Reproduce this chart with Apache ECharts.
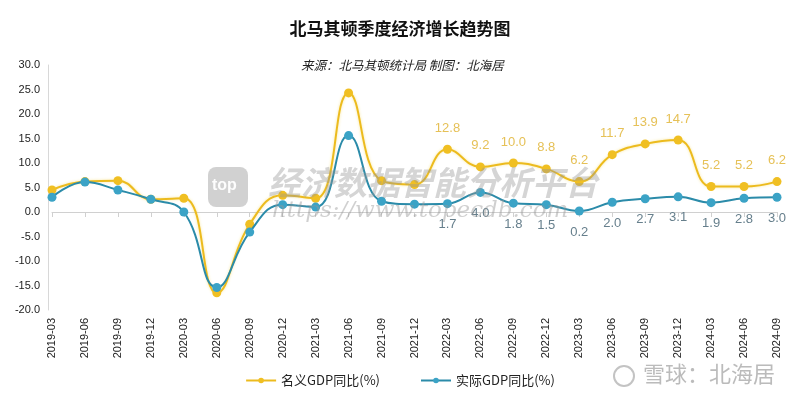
<!DOCTYPE html>
<html>
<head>
<meta charset="utf-8">
<script src="https://cdn.jsdelivr.net/npm/echarts@6/dist/echarts.min.js"></script>
<style>
  html, body { margin: 0; padding: 0; background: #fff; }
  #chart { width: 800px; height: 400px; }
</style>
</head>
<body>
<div id="chart"></div>
<script>
var quarters = ['2019-03', '2019-06', '2019-09', '2019-12', '2020-03', '2020-06', '2020-09', '2020-12',
  '2021-03', '2021-06', '2021-09', '2021-12', '2022-03', '2022-06', '2022-09', '2022-12',
  '2023-03', '2023-06', '2023-09', '2023-12', '2024-03', '2024-06', '2024-09'];
var nominalGdp = [4.5, 6.2, 6.4, 2.6, 2.8, -16.5, -2.5, 3.4, 2.8, 24.3, 6.4, 5.6,
  12.8, 9.2, 10.0, 8.8, 6.2, 11.7, 13.9, 14.7, 5.2, 5.2, 6.2];
var realGdp = [3.0, 6.1, 4.5, 2.6, 0.0, -15.4, -4.1, 1.5, 1.0, 15.6, 2.2, 1.6,
  1.7, 4.0, 1.8, 1.5, 0.2, 2.0, 2.7, 3.1, 1.9, 2.8, 3.0];
var firstLabelled = 12;

var chartDom = document.getElementById('chart');
var myChart = echarts.init(chartDom);
var option;

var fontCn = '"Microsoft YaHei", "Noto Sans CJK SC", sans-serif';

function labelFrom(p) {
  return p.dataIndex >= firstLabelled ? p.value.toFixed(1) : '';
}

option = {
  backgroundColor: '#fff',
  title: [
    {
      text: '北马其顿季度经济增长趋势图',
      left: 'center',
      top: 15,
      textStyle: { fontFamily: fontCn, fontSize: 17, fontWeight: 'bold', color: '#111' }
    },
    {
      text: '来源：北马其顿统计局 制图：北海居',
      left: 296,
      top: 54,
      textStyle: { fontFamily: fontCn, fontSize: 12.5, fontWeight: 'normal', fontStyle: 'italic', color: '#222' }
    }
  ],
  legend: {
    bottom: 8,
    left: 'center',
    itemGap: 40,
    itemWidth: 30,
    itemHeight: 7,
    textStyle: { fontFamily: fontCn, fontSize: 13, color: '#222' },
    data: ['名义GDP同比(%)', '实际GDP同比(%)']
  },
  grid: { left: 52, right: 23, top: 65, bottom: 90 },
  xAxis: {
    type: 'category',
    data: quarters,
    boundaryGap: false,
    axisLine: { onZero: true, lineStyle: { color: '#d0d0d0' } },
    axisTick: { show: true, lineStyle: { color: '#d0d0d0' } },
    axisLabel: {
      rotate: 90,
      interval: 0,
      fontSize: 11,
      color: '#222',
      margin: 8,
      fontFamily: 'Arial, "Liberation Sans", sans-serif'
    }
  },
  yAxis: {
    type: 'value',
    min: -20,
    max: 30,
    interval: 5,
    offset: 4,
    splitLine: { show: false },
    axisLine: { show: true, lineStyle: { color: '#d8d8d8' } },
    axisTick: { show: false },
    axisLabel: {
      fontSize: 11,
      color: '#222',
      fontFamily: 'Arial, "Liberation Sans", sans-serif',
      formatter: function (v) { return v.toFixed(1); }
    }
  },
  series: [
    {
      name: '名义GDP同比(%)',
      type: 'line',
      smooth: 0.45,
      data: nominalGdp,
      symbol: 'circle',
      symbolSize: 9,
      itemStyle: { color: '#f0bf22' },
      lineStyle: { color: '#ecbb1e', width: 2, shadowColor: 'rgba(245,215,90,0.6)', shadowBlur: 3 },
      label: {
        show: true,
        position: 'top',
        distance: 10,
        color: '#e6c157',
        fontSize: 13,
        fontFamily: 'Arial, "Liberation Sans", sans-serif',
        formatter: labelFrom
      },
      z: 3
    },
    {
      name: '实际GDP同比(%)',
      type: 'line',
      smooth: 0.45,
      data: realGdp,
      symbol: 'circle',
      symbolSize: 9,
      itemStyle: { color: '#3ba3c6' },
      lineStyle: { color: '#2b8ba9', width: 2 },
      label: {
        show: true,
        position: 'bottom',
        distance: 10,
        color: '#667f8c',
        fontSize: 13,
        fontFamily: 'Arial, "Liberation Sans", sans-serif',
        formatter: labelFrom
      },
      z: 4
    }
  ],
  graphic: [
    {
      type: 'rect',
      left: 208,
      top: 167,
      shape: { width: 40, height: 40, r: 8 },
      style: { fill: 'rgba(190,190,190,0.7)' },
      z: 10
    },
    {
      type: 'text',
      left: 212,
      top: 178,
      style: { text: 'top', fill: 'rgba(255,255,255,0.95)', font: 'bold 16px Arial, sans-serif' },
      z: 10
    },
    {
      type: 'text',
      left: 268,
      top: 166,
      style: {
        text: '经济数据智能分析平台',
        fill: 'rgba(150,150,150,0.4)',
        font: 'italic bold 33px "Noto Sans CJK SC", sans-serif'
      },
      z: 10
    },
    {
      type: 'text',
      left: 272,
      top: 200,
      style: {
        text: 'https://www.topecdb.com',
        fill: 'rgba(150,150,150,0.45)',
        font: 'italic 23px "DejaVu Serif", "Liberation Serif", serif'
      },
      z: 10
    },
    {
      type: 'circle',
      shape: { cx: 624, cy: 376, r: 10 },
      style: { fill: 'none', stroke: 'rgba(180,180,180,0.8)', lineWidth: 2 },
      z: 10
    },
    {
      type: 'text',
      left: 643,
      top: 363,
      style: {
        text: '雪球：北海居',
        fill: 'rgba(175,175,175,0.85)',
        font: '22px "Noto Sans CJK SC", sans-serif'
      },
      z: 10
    }
  ]
};

option && myChart.setOption(option);
</script>
</body>
</html>
